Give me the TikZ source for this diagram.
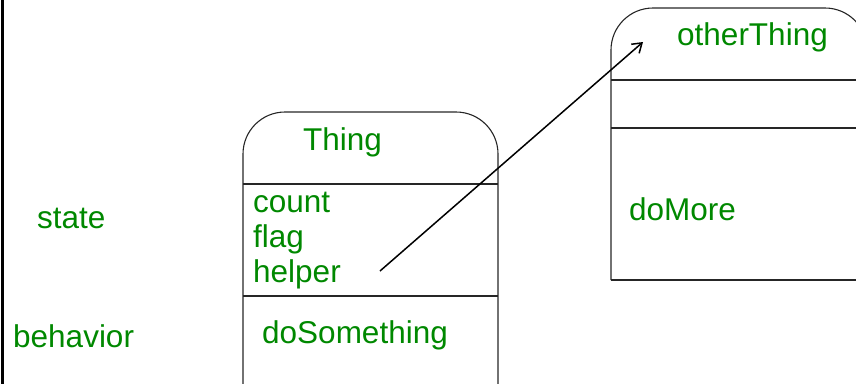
\documentclass[tikz,border=0pt]{standalone}
\usepackage{fontspec}
\setmainfont{Liberation Sans}
\usetikzlibrary{arrows.meta}
\definecolor{txtgreen}{RGB}{0,136,0}
\tikzset{
  lbl/.style={text=txtgreen, inner sep=0pt, anchor=base west, font=\fontsize{31.5bp}{35bp}\selectfont},
  boxline/.style={draw=black!85, line width=1.1bp},
}
\begin{document}
\begin{tikzpicture}[x=1bp,y=-1bp]
\useasboundingbox (0,0) rectangle (856,383);
\clip (0,0) rectangle (856,383);
% left border line
\draw[line width=3bp] (2.5,-5) -- (2.5,390);
% Thing box
\draw[boxline, rounded corners=42bp] (243,400) -- (243,112) -- (498,112) -- (498,400);
\draw[boxline] (243,184) -- (498,184);
\draw[boxline] (243,296) -- (498,296);
% otherThing box
\draw[boxline, rounded corners=42bp] (611,280) -- (611,8) -- (867,8) -- (867,300);
\draw[boxline] (611,280) -- (880,280);
\draw[boxline] (611,80) -- (880,80);
\draw[boxline] (611,128) -- (880,128);
% texts
\node[lbl] (state) at (37,228) {state};
\node[lbl] (behavior) at (13,347) {behavior};
\node[lbl] (thing) at (303,150) {Thing};
\node[lbl] (count) at (253,212) {count};
\node[lbl] (flag) at (253,247) {flag};
\node[lbl] (helper) at (253,282) {helper};
\node[lbl] (dosomething) at (262,343) {doSomething};
\node[lbl] (otherthing) at (677,45) {otherThing};
\node[lbl] (domore) at (629,220) {doMore};
% arrow
\coordinate (from) at (380,271);
\coordinate (to) at (643,42);
\draw[line width=1.5bp, -{Straight Barb[length=9bp,width=12bp]}] (from) -- (to);
\end{tikzpicture}
\end{document}
